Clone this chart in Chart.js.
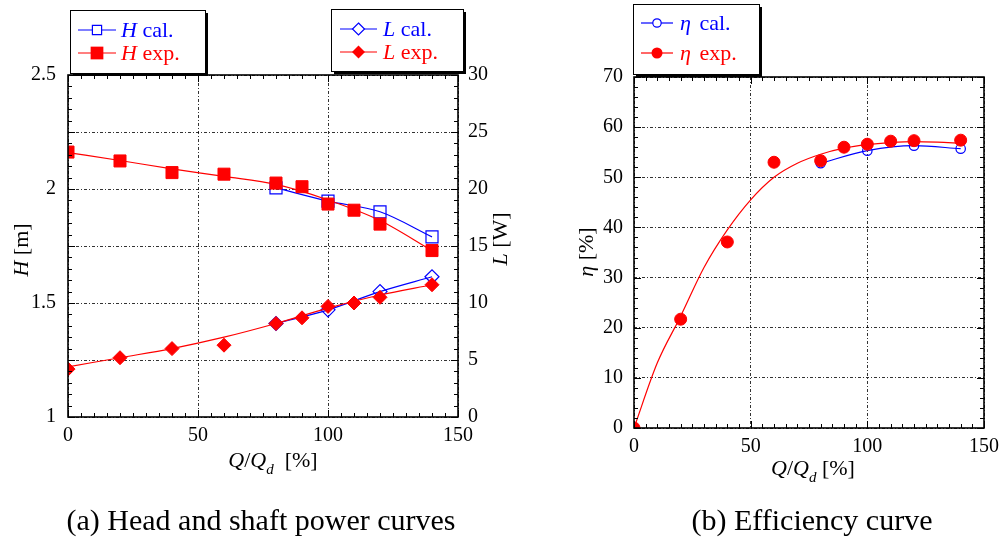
<!DOCTYPE html>
<html>
<head>
<meta charset="utf-8">
<script src="https://cdn.jsdelivr.net/npm/chart.js@4.4.1/dist/chart.umd.min.js"></script>
<style>
  html, body { margin: 0; padding: 0; background: #fff; }
  #wrap { position: relative; width: 1006px; height: 539px; overflow: hidden; }
  #headChart { position: absolute; left: 0; top: 0; }
  #effChart { position: absolute; left: 530px; top: 0; }
</style>
</head>
<body>
<div id="wrap">
  <canvas id="headChart" width="530" height="539"></canvas>
  <canvas id="effChart" width="476" height="539"></canvas>
</div>
<script>
// measured points (Q/Qd in %)
const flowPct = [0, 20, 40, 60, 80, 90, 100, 110, 120, 140];
const calFlow = [80, 100, 120, 140];
const headExp = [2.162, 2.123, 2.072, 2.065, 2.026, 2.01, 1.934, 1.907, 1.846, 1.73];
const headCal = [2.005, 1.947, 1.9, 1.79];
const powerExp = [4.2, 5.2, 6.0, 6.3, 8.2, 8.7, 9.7, 10.0, 10.5, 11.6];
const powerCal = [8.2, 9.4, 11.0, 12.3];
const effExp = [0, 21.7, 37.1, 53.0, 53.3, 56.0, 56.6, 57.2, 57.3, 57.4];
const effCal = [52.8, 55.3, 56.3, 55.7];

const fitFlow = [0, 20, 40, 60, 80, 100, 120, 140];
const headFit = [2.16, 2.125, 2.088, 2.055, 2.02, 1.952, 1.862, 1.73];
const powerFit = [4.4, 5.2, 6.0, 7.0, 8.2, 9.55, 10.7, 11.6];
const effFitFlow = [0, 10, 20, 30, 40, 50, 60, 70, 80, 90, 100, 110, 120, 130, 140];
const effFit = [0, 13, 22.3, 32, 39.5, 45.5, 50, 52.8, 54.6, 55.8, 56.5, 56.9, 57.1, 57.0, 56.8];

const flowTicks = [0, 50, 100, 150];

const RED = "#ff0000";
const BLUE = "#0000ff";
const SERIF = "'Liberation Serif', 'Times New Roman', serif";
Chart.defaults.font.family = SERIF;
Chart.defaults.color = "#000";

const pts = (xs, ys) => xs.map((x, i) => ({ x, y: ys[i] }));

function fontOf(p) {
  return (p.it ? "italic " : "") + (p.size || 22) + "px " + SERIF;
}

function richText(ctx, parts, x, y, align) {
  let w = 0;
  parts.forEach(p => {
    ctx.font = fontOf(p);
    p.w = ctx.measureText(p.t).width + (p.dx || 0);
    w += p.w;
  });
  let cx = align === "center" ? x - w / 2 : x;
  parts.forEach(p => {
    ctx.font = fontOf(p);
    ctx.fillText(p.t, cx + (p.dx || 0), y + (p.dy || 0));
    cx += p.w;
  });
}

function drawMarker(ctx, m, x, y) {
  ctx.save();
  ctx.beginPath();
  if (m.style === "rect") {
    const s = m.r * Math.SQRT1_2;
    ctx.rect(x - s, y - s, 2 * s, 2 * s);
  } else if (m.style === "rectRot") {
    ctx.moveTo(x, y - m.r);
    ctx.lineTo(x + m.r, y);
    ctx.lineTo(x, y + m.r);
    ctx.lineTo(x - m.r, y);
    ctx.closePath();
  } else {
    ctx.arc(x, y, m.r, 0, Math.PI * 2);
  }
  if (m.fill) {
    ctx.fillStyle = m.color;
    ctx.fill();
  } else {
    ctx.fillStyle = "#fff";
    ctx.fill();
    ctx.lineWidth = 1.2;
    ctx.strokeStyle = m.color;
    ctx.stroke();
  }
  ctx.restore();
}

// frame, inward ticks, legend boxes, axis titles, caption
function makeDecor(cfg) {
  return {
    id: "decor",
    afterDraw(chart) {
      const ctx = chart.ctx;
      const a = chart.chartArea;
      const ox = cfg.offsetX || 0;
      ctx.save();

      ctx.strokeStyle = "#000";
      ctx.lineWidth = 1;
      cfg.ticks.forEach(t => {
        const sc = chart.scales[t.scale];
        for (let v = sc.min; v <= sc.max + 1e-9; v += t.minor) {
          const major = Math.abs(v / t.major - Math.round(v / t.major)) < 1e-6;
          const len = major ? 7 : 4;
          const p = Math.round(sc.getPixelForValue(v)) + 0.5;
          ctx.beginPath();
          if (t.side === "left") { ctx.moveTo(a.left, p); ctx.lineTo(a.left + len, p); }
          if (t.side === "right") { ctx.moveTo(a.right, p); ctx.lineTo(a.right - len, p); }
          if (t.side === "bottom") { ctx.moveTo(p, a.bottom); ctx.lineTo(p, a.bottom - len); }
          if (t.side === "top") { ctx.moveTo(p, a.top); ctx.lineTo(p, a.top + len); }
          ctx.stroke();
        }
      });

      ctx.lineWidth = 1.6;
      ctx.strokeRect(a.left, a.top, a.right - a.left, a.bottom - a.top);

      cfg.legends.forEach(b => {
        const x = b.x - ox;
        ctx.fillStyle = "#000";
        ctx.fillRect(x + 3, b.y + 3, b.w, b.h);
        ctx.fillStyle = "#fff";
        ctx.fillRect(x, b.y, b.w, b.h);
        ctx.lineWidth = 1;
        ctx.strokeStyle = "#000";
        ctx.strokeRect(x + 0.5, b.y + 0.5, b.w, b.h);
        b.rows.forEach(r => {
          ctx.strokeStyle = r.color;
          ctx.lineWidth = 1.2;
          ctx.beginPath();
          ctx.moveTo(b.lx0 - ox, r.y);
          ctx.lineTo(b.lx1 - ox, r.y);
          ctx.stroke();
          drawMarker(ctx, r.marker, (b.lx0 + b.lx1) / 2 - ox, r.y);
          ctx.fillStyle = r.color;
          ctx.textBaseline = "alphabetic";
          richText(ctx, r.text, b.tx - ox, r.y + 7, "left");
        });
      });

      ctx.fillStyle = "#000";
      ctx.textBaseline = "alphabetic";
      cfg.titles.forEach(t => {
        if (t.rot) {
          ctx.save();
          ctx.translate(t.x - ox, t.y);
          ctx.rotate(-Math.PI / 2);
          ctx.textBaseline = "middle";
          richText(ctx, t.parts, 0, 0, "center");
          ctx.restore();
        } else {
          richText(ctx, t.parts, t.x - ox, t.y, "center");
        }
      });
      ctx.restore();
    }
  };
}

const gridColor = "rgba(0,0,0,0.8)";
const gridDash = [3, 2, 1, 2];
const tickFont = { size: 20 };

function flowAxis(height) {
  return {
    type: "linear",
    min: 0,
    max: 150,
    afterBuildTicks: s => { s.ticks = flowTicks.map(v => ({ value: v })); },
    afterFit: s => { s.height = height; },
    ticks: { font: tickFont, padding: 7, maxRotation: 0 },
    grid: { color: gridColor, lineWidth: 1, drawTicks: false },
    border: { display: false, dash: gridDash }
  };
}

new Chart(document.getElementById("headChart"), {
  type: "line",
  data: {
    datasets: [
      {
        label: "H exp.", data: pts(flowPct, headExp), yAxisID: "y", showLine: false,
        pointStyle: "rect", pointRadius: 8.5, pointBackgroundColor: RED, pointBorderColor: RED, order: 0
      },
      {
        label: "L exp.", data: pts(flowPct, powerExp), yAxisID: "y1", showLine: false,
        pointStyle: "rectRot", pointRadius: 7, pointBackgroundColor: RED, pointBorderColor: RED, order: 0
      },
      {
        label: "H fit", data: pts(fitFlow, headFit), yAxisID: "y", borderColor: RED, borderWidth: 1.2,
        pointRadius: 0, cubicInterpolationMode: "monotone", order: 1
      },
      {
        label: "L fit", data: pts(fitFlow, powerFit), yAxisID: "y1", borderColor: RED, borderWidth: 1.2,
        pointRadius: 0, cubicInterpolationMode: "monotone", order: 1
      },
      {
        label: "H cal.", data: pts(calFlow, headCal), yAxisID: "y", borderColor: BLUE, borderWidth: 1.2,
        pointStyle: "rect", pointRadius: 8.5, pointBackgroundColor: "rgba(0,0,0,0)",
        pointBorderColor: BLUE, pointBorderWidth: 1.2, cubicInterpolationMode: "monotone", order: 2
      },
      {
        label: "L cal.", data: pts(calFlow, powerCal), yAxisID: "y1", borderColor: BLUE, borderWidth: 1.2,
        pointStyle: "rectRot", pointRadius: 7, pointBackgroundColor: "rgba(0,0,0,0)",
        pointBorderColor: BLUE, pointBorderWidth: 1.2, cubicInterpolationMode: "monotone", order: 2
      }
    ]
  },
  options: {
    responsive: false,
    animation: false,
    layout: { padding: { top: 75, left: 0, right: 0, bottom: 0 } },
    plugins: { legend: { display: false }, tooltip: { enabled: false } },
    scales: {
      x: flowAxis(122),
      y: {
        type: "linear", position: "left", min: 1, max: 2.5,
        afterFit: s => { s.width = 68; },
        ticks: {
          stepSize: 0.25, font: tickFont, padding: 12,
          callback: v => (Math.abs(v * 2 - Math.round(v * 2)) < 1e-6 ? String(+v.toFixed(2)) : "")
        },
        grid: { color: gridColor, lineWidth: 1, drawTicks: false },
        border: { display: false, dash: gridDash }
      },
      y1: {
        type: "linear", position: "right", min: 0, max: 30,
        afterFit: s => { s.width = 72; },
        ticks: { stepSize: 5, font: tickFont, padding: 10 },
        grid: { drawOnChartArea: false, drawTicks: false },
        border: { display: false }
      }
    }
  },
  plugins: [makeDecor({
    ticks: [
      { scale: "x", side: "bottom", minor: 5, major: 50 },
      { scale: "x", side: "top", minor: 5, major: 50 },
      { scale: "y", side: "left", minor: 0.05, major: 0.25 },
      { scale: "y1", side: "right", minor: 1, major: 5 }
    ],
    legends: [
      {
        x: 70, y: 10, w: 135, h: 63, lx0: 78, lx1: 116, tx: 121,
        rows: [
          { y: 30, color: BLUE, marker: { style: "rect", r: 6.5, fill: false, color: BLUE },
            text: [{ t: "H", it: 1 }, { t: " cal." }] },
          { y: 53, color: RED, marker: { style: "rect", r: 9, fill: true, color: RED },
            text: [{ t: "H", it: 1 }, { t: " exp." }] }
        ]
      },
      {
        x: 331, y: 9, w: 132, h: 62, lx0: 340, lx1: 377, tx: 383,
        rows: [
          { y: 29, color: BLUE, marker: { style: "rectRot", r: 6, fill: false, color: BLUE },
            text: [{ t: "L", it: 1 }, { t: " cal." }] },
          { y: 52, color: RED, marker: { style: "rectRot", r: 6.5, fill: true, color: RED },
            text: [{ t: "L", it: 1 }, { t: " exp." }] }
        ]
      }
    ],
    titles: [
      { rot: true, x: 22, y: 250, parts: [{ t: "H", it: 1 }, { t: " [m]" }] },
      { rot: true, x: 501, y: 239, parts: [{ t: "L", it: 1 }, { t: " [W]" }] },
      { x: 273, y: 467, parts: [{ t: "Q", it: 1 }, { t: "/" }, { t: "Q", it: 1 }, { t: "d", it: 1, size: 15, dy: 7 }, { t: "  [%]" }] },
      { x: 261, y: 530, parts: [{ t: "(a) Head and shaft power curves", size: 30 }] }
    ]
  })]
});

new Chart(document.getElementById("effChart"), {
  type: "line",
  data: {
    datasets: [
      {
        label: "η exp.", data: pts(flowPct, effExp), showLine: false,
        pointStyle: "circle", pointRadius: 6, pointBackgroundColor: RED, pointBorderColor: RED, order: 0
      },
      {
        label: "η fit", data: pts(effFitFlow, effFit), borderColor: RED, borderWidth: 1.2,
        pointRadius: 0, cubicInterpolationMode: "monotone", order: 1
      },
      {
        label: "η cal.", data: pts(calFlow, effCal), borderColor: BLUE, borderWidth: 1.2,
        pointStyle: "circle", pointRadius: 4.7, pointBackgroundColor: "rgba(0,0,0,0)",
        pointBorderColor: BLUE, pointBorderWidth: 1.2, cubicInterpolationMode: "monotone", order: 2
      }
    ]
  },
  options: {
    responsive: false,
    animation: false,
    layout: { padding: { top: 77, left: 0, right: 20, bottom: 0 } },
    plugins: { legend: { display: false }, tooltip: { enabled: false } },
    scales: {
      x: flowAxis(111),
      y: {
        type: "linear", position: "left", min: 0, max: 70,
        afterFit: s => { s.width = 104; },
        ticks: { stepSize: 10, font: tickFont, padding: 11 },
        grid: { color: gridColor, lineWidth: 1, drawTicks: false },
        border: { display: false, dash: gridDash }
      }
    }
  },
  plugins: [makeDecor({
    offsetX: 530,
    ticks: [
      { scale: "x", side: "bottom", minor: 5, major: 50 },
      { scale: "x", side: "top", minor: 5, major: 50 },
      { scale: "y", side: "left", minor: 2, major: 10 },
      { scale: "y", side: "right", minor: 2, major: 10 }
    ],
    legends: [
      {
        x: 633, y: 4, w: 126, h: 70, lx0: 641, lx1: 673, tx: 680,
        rows: [
          { y: 23, color: BLUE, marker: { style: "circle", r: 4.2, fill: false, color: BLUE },
            text: [{ t: "η", it: 1 }, { t: " cal.", dx: 3 }] },
          { y: 53, color: RED, marker: { style: "circle", r: 5.5, fill: true, color: RED },
            text: [{ t: "η", it: 1 }, { t: " exp.", dx: 3 }] }
        ]
      }
    ],
    titles: [
      { rot: true, x: 587, y: 252, parts: [{ t: "η", it: 1 }, { t: " [%]" }] },
      { x: 813, y: 475, parts: [{ t: "Q", it: 1 }, { t: "/" }, { t: "Q", it: 1 }, { t: "d", it: 1, size: 15, dy: 7 }, { t: " [%]" }] },
      { x: 812, y: 530, parts: [{ t: "(b) Efficiency curve", size: 30 }] }
    ]
  })]
});
</script>
</body>
</html>
